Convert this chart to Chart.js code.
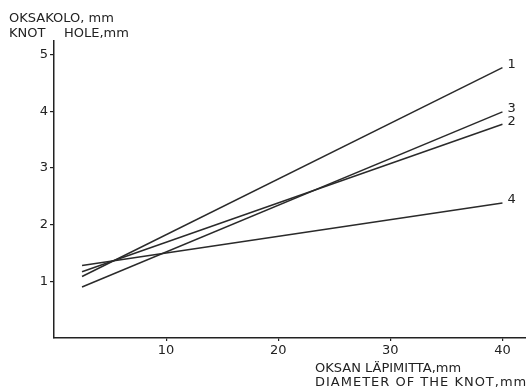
<!DOCTYPE html>
<html>
<head>
<meta charset="utf-8">
<script src="https://cdn.jsdelivr.net/npm/chart.js@4"></script>
<style>
  html, body { margin: 0; padding: 0; background: #fff; }
  #wrap { width: 526px; height: 391px; }
</style>
</head>
<body>
<div id="wrap"><canvas id="chart1" width="526" height="391"></canvas></div>
<script>
const diameters = [2.5, 40]
const line1 = [1.085, 4.77]
const line2 = [1.17, 3.77]
const line3 = [0.9, 3.99]
const line4 = [1.28, 2.38]
const lineNames = ['1', '2', '3', '4']
const xTicks = [10, 20, 30, 40]
const yTicks = [1, 2, 3, 4, 5]

const FONT = "'DejaVu Sans', sans-serif"

function toPoints(ys) {
    return diameters.map((x, i) => ({ x, y: ys[i] }))
}

const labelPlugin = {
    id: 'labels',
    afterDraw(chart) {
        const ctx = chart.ctx
        ctx.save()
        ctx.fillStyle = '#222'
        ctx.font = '13px ' + FONT
        ctx.textBaseline = 'middle'
        ctx.textAlign = 'left'
        // line numbers at line ends
        chart.data.datasets.forEach((ds, i) => {
            const meta = chart.getDatasetMeta(i)
            const last = meta.data[meta.data.length - 1]
            ctx.fillText(lineNames[i], last.x + 5, last.y - 3)
        })
        // axis titles
        ctx.textBaseline = 'alphabetic'
        ctx.font = '13px ' + FONT
        ctx.fillText('OKSAKOLO, mm', 9, 22)
        ctx.fillText('KNOT', 9, 37)
        ctx.fillText('HOLE,mm', 64, 37)
        ctx.fillText('OKSAN LÄPIMITTA,mm', 315, 372)
        ctx.letterSpacing = '1px'
        ctx.fillText('DIAMETER OF THE KNOT,mm', 315, 386)
        ctx.restore()
    }
}

const data = {
    datasets: [line1, line2, line3, line4].map(ys => ({
        data: toPoints(ys),
        borderColor: '#2a2a2a',
        borderWidth: 1.5,
        pointRadius: 0,
        fill: false
    }))
}

const options = {
    responsive: false,
    animation: false,
    layout: { padding: { top: 41, right: 0, left: 0, bottom: 0 } },
    plugins: {
        legend: { display: false },
        tooltip: { enabled: false }
    },
    scales: {
        x: {
            type: 'linear',
            min: 0,
            max: 42.1,
            afterBuildTicks: scale => { scale.ticks = xTicks.map(value => ({ value })) },
            afterFit: scale => { scale.height = 53 },
            grid: { drawOnChartArea: false, drawTicks: true, tickLength: 3, color: '#222', lineWidth: 1.2 },
            border: { display: true, color: '#222', width: 1.5 },
            ticks: { color: '#222', font: { size: 13, family: FONT }, padding: 2, maxRotation: 0 }
        },
        y: {
            type: 'linear',
            min: 0,
            max: 5.24,
            afterBuildTicks: scale => { scale.ticks = yTicks.map(value => ({ value })) },
            afterFit: scale => { scale.width = 54 },
            grid: { drawOnChartArea: false, drawTicks: true, tickLength: 4, color: '#222', lineWidth: 1.2 },
            border: { display: true, color: '#222', width: 1.5 },
            ticks: { color: '#222', font: { size: 13, family: FONT }, padding: 2 }
        }
    }
}

new Chart('chart1', { type: 'line', data, options, plugins: [labelPlugin] })
</script>
</body>
</html>
